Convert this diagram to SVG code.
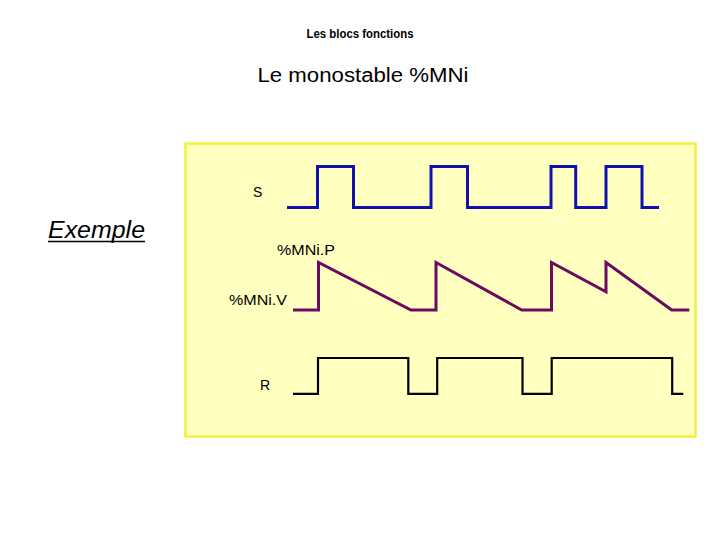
<svg xmlns="http://www.w3.org/2000/svg" width="720" height="540" viewBox="0 0 720 540">
<style>
text{font-family:"Liberation Sans","DejaVu Sans",sans-serif;fill:#000}
.lbl{font-size:14px}
.wave{fill:none;stroke-linejoin:miter;stroke-linecap:butt}
</style>
<rect width="720" height="540" fill="#fff"/>
<g id="titles">
<text x="360" y="38" font-size="12.5" text-anchor="middle" font-weight="bold" textLength="107" lengthAdjust="spacingAndGlyphs">Les blocs fonctions</text>
<text x="363" y="82" font-size="20" text-anchor="middle" textLength="211" lengthAdjust="spacingAndGlyphs">Le monostable %MNi</text>
</g>
<g id="exemple">
<text x="48" y="238" font-size="23" font-style="italic" textLength="97" lengthAdjust="spacingAndGlyphs">Exemple</text>
<line x1="48" y1="241.5" x2="145" y2="241.5" stroke="#000" stroke-width="1.5"/>
</g>
<g id="panel">
<rect x="185.5" y="143.5" width="510" height="293" fill="#ffffc0" stroke="#f0f040" stroke-width="2.5"/>
</g>
<g id="labels">
<text class="lbl" x="253" y="197">S</text>
<text class="lbl" x="277" y="255" textLength="58" lengthAdjust="spacingAndGlyphs">%MNi.P</text>
<text class="lbl" x="229" y="305" textLength="58" lengthAdjust="spacingAndGlyphs">%MNi.V</text>
<text class="lbl" x="260" y="390">R</text>
</g>
<g id="waveforms">
<polyline id="S" class="wave" stroke="#1010b0" stroke-width="3" points="287,207.5 317.5,207.5 317.5,166.5 353.5,166.5 353.5,207.5 431,207.5 431,166.5 467.5,166.5 467.5,207.5 551,207.5 551,166.5 575.7,166.5 575.7,207.5 606,207.5 606,166.5 642,166.5 642,207.5 659,207.5"/>
<polyline id="V" class="wave" stroke="#6a0a60" stroke-width="3" points="293,310 318.5,310 318.5,262.5 411,310 436,310 436,262.5 521.7,310 551.5,310 551.5,262.5 606,291.7 606,262.5 671.7,310 689.3,310"/>
<polyline id="R" class="wave" stroke="#000" stroke-width="2.2" points="293,393.8 318,393.8 318,358 408.3,358 408.3,393.8 437.2,393.8 437.2,358 522.5,358 522.5,393.8 551.7,393.8 551.7,358 672.2,358 672.2,393.8 683.3,393.8"/>
</g>
</svg>
